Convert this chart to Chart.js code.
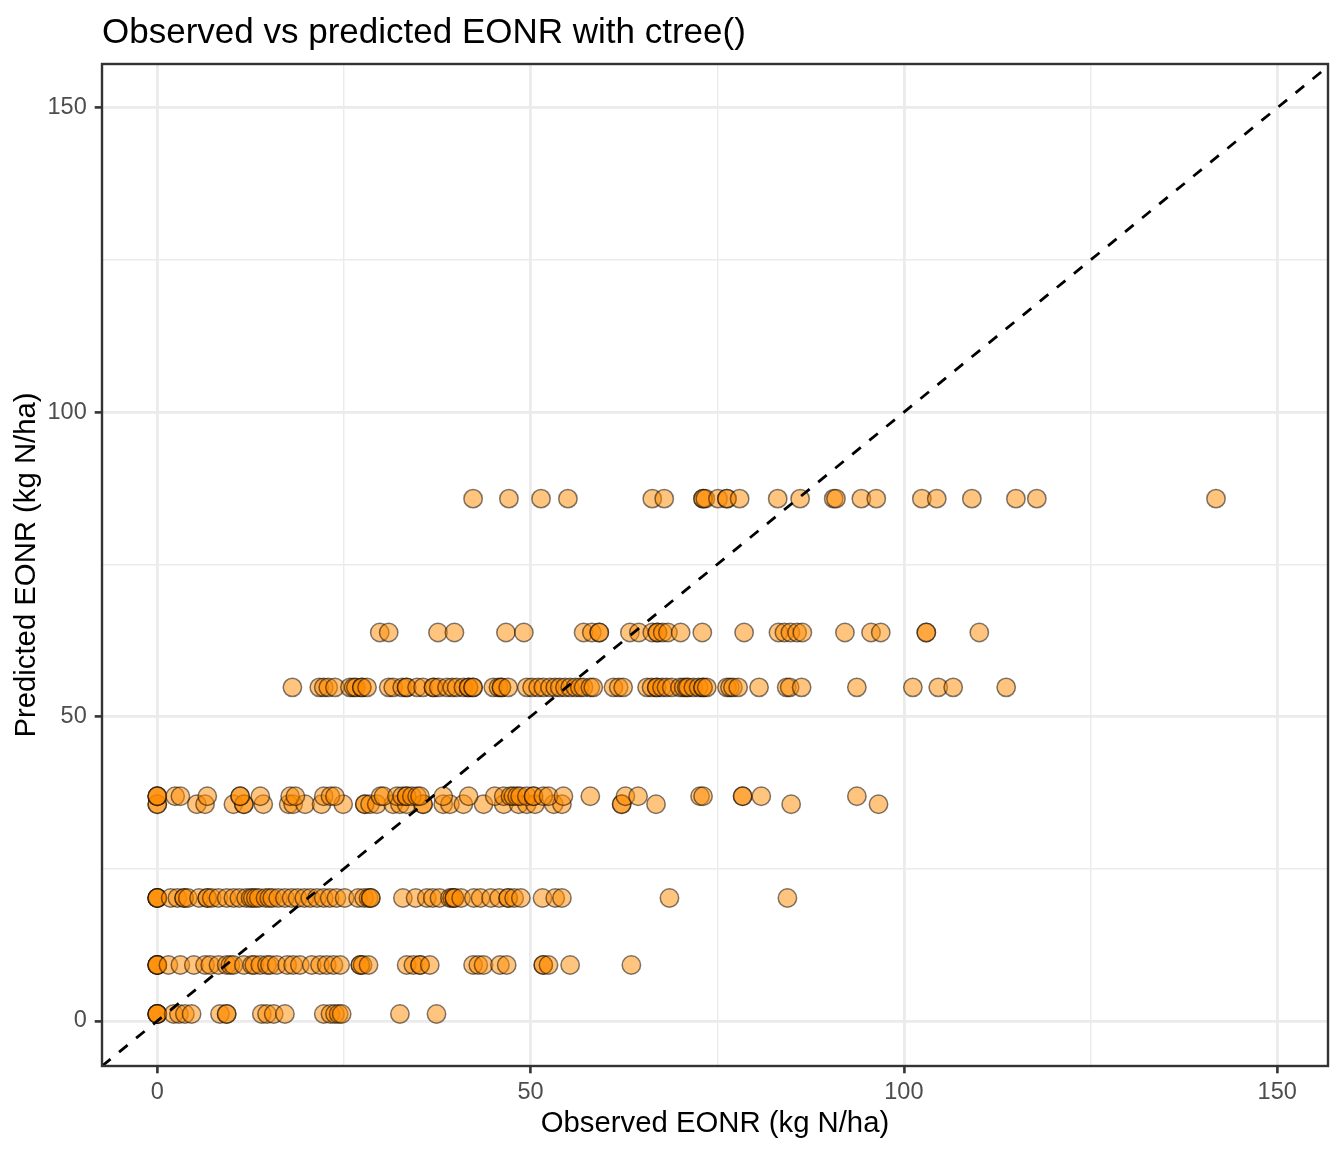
<!DOCTYPE html>
<html><head><meta charset="utf-8">
<script src="https://cdn.jsdelivr.net/npm/chart.js@4.4.0/dist/chart.umd.min.js"></script>
<style>html,body{margin:0;padding:0;background:#fff}canvas{display:block}</style>
</head><body>
<canvas id="c" width="1344" height="1152"></canvas>
<script>
// Predicted EONR levels (terminal nodes of ctree)
const predLevels = [1.15, 9.2, 20.2, 35.6, 36.9, 54.8, 63.8, 85.8];
// Observed EONR values at each predicted level
const obsPred1 = [0,0,0,0, 2.2, 2.9, 3.7, 4.6, 8.4, 9.3, 9.3, 14.0, 14.7, 15.6, 17.1, 22.3, 23.2, 23.8, 24.3, 24.7, 32.5, 37.4];
const obsPred9 = [0,0,0,0, 1.5, 3.1, 4.9, 6.4, 7.1, 8.2, 9.3, 9.8, 10.2, 11.6, 12.7, 13.0, 13.8, 14.7, 15.1, 16.0, 17.4, 18.2, 19.1, 20.7, 21.8, 22.7, 23.6, 24.5, 27.2, 27.2, 27.5, 28.3, 33.4, 34.3, 35.2, 35.2, 36.5, 42.3, 43.0, 43.7, 45.9, 46.8, 51.7, 51.7, 52.4, 55.3, 63.5];
const obsPred20 = [0,0,0,0, 1.8, 2.7, 3.6, 3.6, 4.1, 5.6, 6.7, 6.7, 7.3, 8.2, 9.3, 10.2, 11.0, 11.9, 12.5, 12.8, 13.2, 13.6, 14.5, 15.0, 15.4, 16.2, 17.1, 18.0, 18.8, 19.7, 20.5, 21.4, 22.3, 23.1, 24.0, 25.1, 26.9, 27.7, 28.3, 28.6, 28.6, 32.9, 34.6, 36.1, 36.9, 37.8, 39.2, 39.5, 39.8, 39.8, 40.7, 42.4, 43.3, 44.7, 45.8, 47.0, 47.0, 47.8, 48.7, 51.6, 53.3, 54.2, 68.6, 84.4];
const obsPred36 = [0,0, 5.3, 6.4, 10.2, 11.6, 11.6, 14.2, 17.6, 18.2, 19.8, 22.0, 24.9, 27.8, 27.8, 28.5, 29.4, 31.6, 32.5, 33.4, 35.6, 35.6, 38.3, 39.2, 41.0, 43.7, 46.4, 48.4, 49.5, 50.6, 53.1, 54.2, 62.2, 62.2, 66.8, 84.9, 96.6];
const obsPred37 = [0,0,0, 2.4, 3.1, 6.7, 11.1, 11.1, 13.8, 17.8, 18.5, 22.3, 23.2, 23.8, 29.9, 30.3, 32.1, 32.8, 33.4, 33.4, 34.1, 34.8, 35.2, 38.3, 41.7, 45.2, 46.4, 47.3, 47.7, 48.2, 48.6, 49.5, 50.4, 50.4, 51.7, 52.4, 54.4, 58.0, 62.7, 64.4, 72.7, 73.1, 78.4, 78.4, 80.9, 93.7];
const obsPred55 = [18.1, 21.7, 22.3, 22.9, 23.8, 25.8, 26.3, 26.6, 27.4, 27.4, 28.1, 31.0, 31.6, 32.8, 33.4, 33.4, 34.8, 35.6, 37.0, 37.0, 37.7, 38.8, 39.5, 40.1, 41.0, 41.7, 41.7, 42.3, 42.3, 45.0, 45.7, 46.1, 46.1, 47.0, 49.5, 50.2, 51.0, 51.7, 52.6, 53.3, 53.9, 54.6, 55.3, 56.0, 56.6, 57.1, 58.0, 58.4, 61.1, 61.8, 62.4, 65.6, 66.2, 66.9, 66.9, 67.6, 68.2, 68.9, 70.0, 70.5, 70.9, 71.1, 71.8, 72.5, 73.1, 73.1, 73.6, 76.3, 76.7, 77.1, 77.8, 80.6, 84.3, 84.7, 86.3, 93.7, 101.2, 104.6, 106.6, 113.7];
const obsPred64 = [29.8, 31.0, 37.6, 39.8, 46.7, 49.1, 57.1, 58.2, 59.2, 59.2, 63.3, 64.5, 66.3, 67.0, 67.0, 67.7, 68.4, 70.1, 73.0, 78.6, 83.2, 84.0, 84.8, 85.7, 86.4, 92.1, 95.6, 96.9, 103.0, 103.0, 110.1];
const obsPred86 = [42.3, 47.1, 51.4, 55.0, 66.3, 67.9, 73.1, 73.1, 73.4, 75.1, 76.3, 76.3, 78.0, 83.1, 86.1, 90.6, 90.9, 94.3, 96.3, 102.4, 104.4, 109.1, 115.0, 117.8, 141.8];
const obsByLevel = [obsPred1, obsPred9, obsPred20, obsPred36, obsPred37, obsPred55, obsPred64, obsPred86];

const gridTicks = [0, 25, 50, 75, 100, 125, 150];
const majorTicks = [0, 50, 100, 150];
const axisMin = -7.4, xMax = 156.8, yMax = 157.2;

const titleText = 'Observed vs predicted EONR with ctree()';
const xTitle = 'Observed EONR (kg N/ha)';
const yTitle = 'Predicted EONR (kg N/ha)';

const points = [];
obsByLevel.forEach((arr, i) => arr.forEach(x => points.push({x: x, y: predLevels[i]})));

const FONT = '"Liberation Sans", Arial, Helvetica, sans-serif';
const isMajor = v => majorTicks.includes(v);

const titlePlugin = {
  id: 'ggTitle',
  afterDraw(chart) {
    const ctx = chart.ctx;
    ctx.save();
    ctx.fillStyle = '#000';
    ctx.font = '35px ' + FONT;
    ctx.textAlign = 'left';
    ctx.textBaseline = 'alphabetic';
    ctx.fillText(titleText, 102, 43);
    ctx.restore();
  }
};
const borderPlugin = {
  id: 'panelBorder',
  afterDatasetsDraw(chart) {
    const a = chart.chartArea, ctx = chart.ctx;
    ctx.save();
    ctx.strokeStyle = '#333333';
    ctx.lineWidth = 2.4;
    ctx.strokeRect(a.left, a.top, a.right - a.left, a.bottom - a.top);
    ctx.restore();
  }
};

function scaleCfg(max, title, isX) {
  return {
    type: 'linear',
    min: axisMin, max: max,
    afterBuildTicks: s => { s.ticks = gridTicks.map(v => ({value: v})); },
    afterFit: s => { if (isX) s.height = 86; else s.width = 102; },
    border: {display: false},
    grid: {
      color: '#EBEBEB',
      lineWidth: c => isMajor(c.tick.value) ? 2.8 : 1.4,
      drawTicks: true,
      tickLength: 7.3,
      tickWidth: 2.6,
      tickColor: c => isMajor(c.tick.value) ? '#333333' : 'rgba(0,0,0,0)'
    },
    ticks: {
      autoSkip: false,
      maxRotation: 0,
      padding: isX ? 5 : 8,
      color: '#4D4D4D',
      font: {family: FONT, size: 23.5},
      callback: v => isMajor(v) ? String(v) : ''
    },
    title: {
      display: true, text: title, color: '#000',
      font: {family: FONT, size: 29.3},
      padding: isX ? {top: 0, bottom: 11} : {top: 9, bottom: 0}
    }
  };
}

new Chart(document.getElementById('c'), {
  type: 'scatter',
  data: {
    datasets: [
      {
        type: 'line',
        data: [{x: axisMin, y: axisMin}, {x: 160, y: 160}],
        borderColor: '#000', borderWidth: 2.8, borderDash: [11, 11],
        pointRadius: 0, fill: false, order: 0, clip: 0
      },
      {
        data: points,
        backgroundColor: 'rgba(255,140,0,0.5)',
        borderColor: 'rgba(0,0,0,0.5)',
        borderWidth: 1.5,
        pointRadius: 9.2,
        order: 1
      }
    ]
  },
  options: {
    responsive: false, animation: false, devicePixelRatio: 1,
    layout: {padding: {top: 64, right: 16, left: 0, bottom: 0}},
    plugins: {legend: {display: false}, tooltip: {enabled: false}, title: {display: false}},
    scales: {
      x: scaleCfg(xMax, xTitle, true),
      y: scaleCfg(yMax, yTitle, false)
    }
  },
  plugins: [titlePlugin, borderPlugin]
});
</script>
</body></html>
